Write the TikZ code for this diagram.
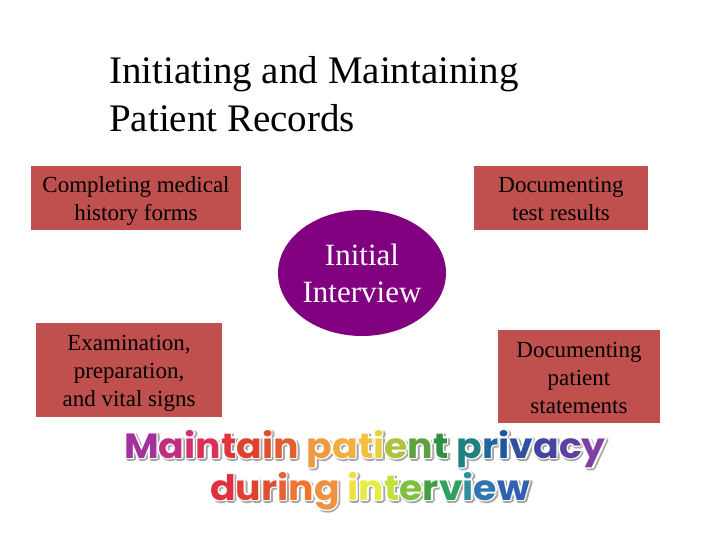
\documentclass[tikz,border=0pt]{standalone}
\usepackage{fontspec}
\setmainfont{Liberation Serif}
\newfontfamily\rbfont{Poppins}
\usetikzlibrary{shapes.geometric,calc}
\definecolor{boxred}{HTML}{C0504D}
\definecolor{purp}{HTML}{800080}
\newcommand\rbc[2]{{\color[HTML]{#1}#2}}
\newcommand\shadowc[2]{#2}
\newcommand\topstrut{\rule{0pt}{25.6pt}}
\newcommand\lineone{\scalebox{1.08}[1]{%
\rbc{A3319B}{M}\rbc{C0307F}{a}\rbc{D03070}{i}\rbc{DC3058}{n}\rbc{E03540}{t}\rbc{E04030}{a}\rbc{E05030}{i}\rbc{E26030}{n} %
\rbc{F09A40}{p}\rbc{F2AE40}{a}\rbc{F2C040}{t}\rbc{E8D040}{i}\rbc{B0C040}{e}\rbc{60A040}{n}\rbc{309040}{t} %
\rbc{208080}{p}\rbc{2066A0}{r}\rbc{2055A0}{i}\rbc{3050A0}{v}\rbc{4545A0}{a}\rbc{6040A0}{c}\rbc{8040A0}{y}}}
\newcommand\linetwo{\scalebox{1.08}[1]{%
\rbc{E03040}{d}\rbc{E04030}{u}\rbc{E05030}{r}\rbc{E66030}{i}\rbc{F07530}{n}\rbc{F09040}{g} %
\rbc{F2E040}{i}\rbc{E4EE40}{n}\rbc{C0E040}{t}\rbc{80C040}{e}\rbc{40A040}{r}\rbc{30A060}{v}\rbc{3090A0}{i}\rbc{3075B0}{e}\rbc{3060B0}{w}}}
\tikzset{
  redbox/.style={rectangle, fill=boxred, text=black, align=center, inner sep=0pt,
    font=\fontsize{23}{28}\selectfont},
  rbtext/.style={anchor=base, inner sep=0pt, font=\rbfont\bfseries\fontsize{35}{40}\selectfont}
}
\begin{document}
\begin{tikzpicture}[x=1pt,y=-1pt]
\useasboundingbox (0,0) rectangle (720,540);
\node[anchor=base west, align=left, inner sep=0pt, font=\fontsize{39}{48}\selectfont] (title) at (109,132)
  {Initiating and Maintaining\\Patient Records};
\node[redbox, minimum width=210, minimum height=64] (b1) at (136,198) {\topstrut Completing medical\\history forms\strut};
\node[redbox, minimum width=174, minimum height=64] (b2) at (561,198) {\topstrut Documenting\\test results\strut};
\node[redbox, minimum width=186, minimum height=94] (b3) at (129,370) {\topstrut Examination,\\preparation,\\and vital signs\strut};
\node[redbox, minimum width=162, minimum height=93] (b4) at (579,376.5) {\topstrut Documenting\\patient\\statements\strut};
\node[ellipse, fill=purp, text=white, minimum width=161, minimum height=126, inner sep=0pt,
  align=center, font=\fontsize{31}{37}\selectfont] (ii) at (362,273) {Initial\\Interview};
% rainbow text
\foreach \a in {0,45,...,315} {
  \node[rbtext, text=black!35] at ($(365,458)+(1.5,1.5)+(\a:2)$) {\let\rbc\shadowc\lineone};
  \node[rbtext, text=black!35] at ($(370,500)+(1.5,1.5)+(\a:2)$) {\let\rbc\shadowc\linetwo};
}
\foreach \a in {0,45,...,315} {
  \node[rbtext, text=white] at ($(365,458)+(\a:1.5)$) {\let\rbc\shadowc\lineone};
  \node[rbtext, text=white] at ($(370,500)+(\a:1.5)$) {\let\rbc\shadowc\linetwo};
}
\node[rbtext] (r1) at (365,458) {\lineone};
\node[rbtext] (r2) at (370,500) {\linetwo};
\end{tikzpicture}
\end{document}
